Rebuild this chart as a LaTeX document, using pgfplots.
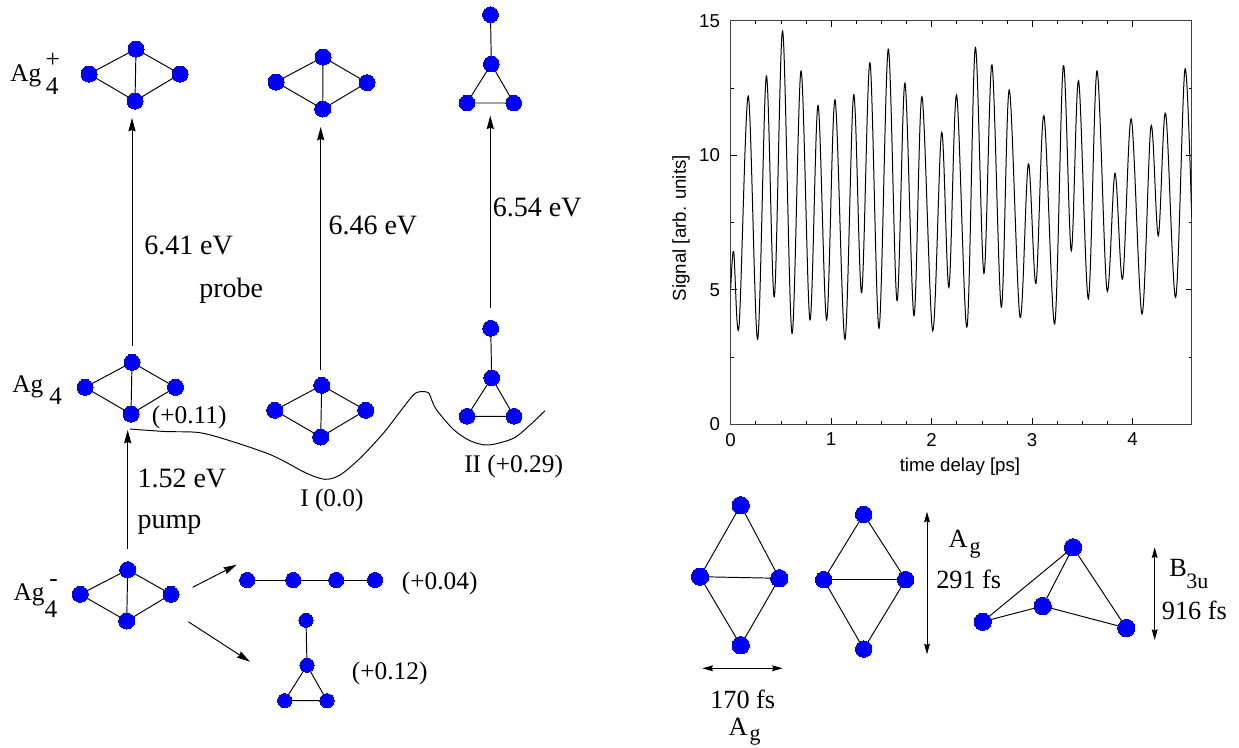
\documentclass[border=0pt]{standalone}
\usepackage{fontspec}
\setmainfont{Liberation Serif}
\newfontfamily\hv{Liberation Sans}
\usepackage{pgfplots}
\pgfplotsset{compat=1.18}
\usetikzlibrary{arrows.meta}
\definecolor{atomblue}{RGB}{0,0,255}
\newcommand{\T}[4]{\node[anchor=base west,inner sep=0pt,font=\fontsize{#1}{#1}\selectfont] at (axis cs:#2,#3) {#4};}
\newcommand{\mol}[3]{\addplot[bond] coordinates {#2};\addplot[only marks,mark=*,mark size=#1,mark options={fill=atomblue,draw=atomblue,line width=0pt}] coordinates {#3};}
\pgfplotsset{
  bond/.style={black,line width=0.72pt,no markers},
  arr/.style={black,line width=0.72pt,no markers,-{Stealth[length=10pt,width=5.4pt,inset=1pt]}},
  darr/.style={black,line width=0.72pt,no markers,{Stealth[length=8pt,width=4.4pt,inset=1pt]}-{Stealth[length=8pt,width=4.4pt,inset=1pt]}},
}
\begin{document}
\begin{tikzpicture}
\useasboundingbox (0,0) rectangle (929.25pt,560.25pt);
% canvas axis in pixel units of the reference
\begin{axis}[at={(0pt,0pt)},anchor=south west,scale only axis,width=929.25pt,height=560.25pt,
  xmin=0,xmax=1239,ymin=0,ymax=747,y dir=reverse,hide axis,clip=false]
% top row
\mol{6pt}{(136,49) (89,74) (135,101) (136,49) (180,74) (135,101)}{(136,49) (89,74) (180,74) (135,101)}
\mol{6pt}{(323,57) (276,82) (322.7,109) (323,57) (367,82.6) (322.7,109)}{(323,57) (276,82) (367,82.6) (322.7,109)}
\mol{5.9pt}{(490.5,14.7) (491.3,64) (467,103) (513.7,103) (491.3,64)}{(490.5,14.7) (491.3,64) (467,103) (513.7,103)}
% probe arrows
\addplot[arr] coordinates {(132,346) (132,118)};
\addplot[arr] coordinates {(320.7,370) (320.7,127)};
\addplot[arr] coordinates {(490.3,308) (490.3,115.7)};
% middle row
\mol{6pt}{(132,362.3) (85,387.3) (131,414) (132,362.3) (175.5,387.3) (131,414)}{(132,362.3) (85,387.3) (175.5,387.3) (131,414)}
\mol{6pt}{(321.7,385.3) (274.7,410.3) (320.7,437) (321.7,385.3) (365.7,410.3) (320.7,437)}{(321.7,385.3) (274.7,410.3) (365.7,410.3) (320.7,437)}
\mol{5.9pt}{(490.7,328.3) (491.7,377.7) (467,416.3) (514,416.3) (491.7,377.7)}{(490.7,328.3) (491.7,377.7) (467,416.3) (514,416.3)}
% potential curve
\addplot[bond,smooth,tension=0.5] coordinates {(130,429) (165,431.5) (200,432.7) (233,441.7) (267,453.3) (283,460.7) (306.7,473.3) (325,479.3) (340,475) (360,458.3) (383.3,433.3) (400,411.7) (413.3,395) (420,391.7) (428.3,392.7) (431.7,400) (436.7,410) (453.3,429.3) (470,440.7) (488.3,445) (513.3,438.3) (530,425) (545,410.7)};
% pump
\addplot[arr] coordinates {(127.7,549.3) (127.7,430)};
% bottom row
\mol{6pt}{(127.7,569.7) (80.3,594.3) (126.7,621) (127.7,569.7) (171,594.3) (126.7,621)}{(127.7,569.7) (80.3,594.3) (171,594.3) (126.7,621)}
\addplot[arr] coordinates {(192.7,587.3) (236.7,564.7)};
\addplot[arr] coordinates {(188.3,621.7) (250,661.7)};
\mol{5.7pt}{(247.3,580) (375,580)}{(247.3,580) (293.3,580) (336.3,580) (375,580)}
\mol{5.3pt}{(306,620.3) (307,665.3) (284.7,700.7) (327,700.7) (307,665.3)}{(306,620.3) (307,665.3) (284.7,700.7) (327,700.7)}
% lower right molecules
\mol{6.5pt}{(740.7,505.3) (700,576.7) (740.7,645.3) (779.3,578.3) (740.7,505.3)}{(740.7,505.3) (700,576.7) (779.3,578.3) (740.7,645.3)}
\addplot[bond] coordinates {(700,576.7) (779.3,578.3)};
\mol{6.2pt}{(863.7,514.3) (823.7,579.7) (863.7,649) (905.7,579.7) (863.7,514.3)}{(863.7,514.3) (823.7,579.7) (905.7,579.7) (863.7,649)}
\addplot[bond] coordinates {(823.7,579.7) (905.7,579.7)};
\mol{6.5pt}{(1073,547.3) (982.7,621.7) (1042.7,606) (1126.3,628) (1073,547.3) (1042.7,606)}{(1073,547.3) (982.7,621.7) (1042.7,606) (1126.3,628)}
\addplot[darr] coordinates {(702.3,668.3) (782.7,668.3)};
\addplot[darr] coordinates {(927,511.7) (927,654.3)};
\addplot[darr] coordinates {(1154.7,547.3) (1154.7,640)};
% text
\T{19pt}{10}{81.7}{Ag}
\T{19pt}{45.5}{94.3}{4}
\T{19pt}{45.3}{67}{+}
\T{19pt}{12}{392.7}{Ag}
\T{19pt}{49}{404.3}{4}
\T{19pt}{13.3}{600}{Ag}
\T{19pt}{44.3}{617.7}{4}
\T{19pt}{49}{586}{-}
\T{21pt}{144}{254.3}{6.41 eV}
\T{21pt}{328.3}{234.3}{6.46 eV}
\T{21pt}{492.7}{216}{6.54 eV}
\T{21pt}{199}{297}{probe}
\T{21pt}{137.3}{487.7}{1.52 eV}
\T{21pt}{137.3}{528}{pump}
\T{19pt}{151.7}{423.3}{(+0.11)}
\T{19pt}{300}{506.7}{I (0.0)}
\T{19pt}{464}{472.3}{II (+0.29)}
\T{19pt}{401.7}{589.3}{(+0.04)}
\T{19pt}{351.7}{679}{(+0.12)}
\T{19.7pt}{710}{708.3}{170 fs}
\T{19.7pt}{728.3}{735.7}{A}
\T{16.5pt}{749.3}{740}{g}
\T{19.7pt}{948.3}{547.3}{A}
\T{16.5pt}{969.3}{553.3}{g}
\T{19.7pt}{936}{588.3}{291 fs}
\T{19.7pt}{1169}{576}{B}
\T{16.5pt}{1186}{588.3}{3u}
\T{19.7pt}{1161.7}{619}{916 fs}
\end{axis}
% signal panel
\begin{axis}[at={(548.0pt,242.0pt)},anchor=south west,scale only axis,width=345.75pt,height=302.7pt,
  xmin=0,xmax=4.587,ymin=0,ymax=15,
  xtick={0,1,2,3,4},ytick={0,5,10,15},
  minor x tick num=3,minor y tick num=1,
  tick align=inside,major tick length=4.5pt,minor tick length=2.25pt,
  every tick/.style={black,line width=0.6pt},
  axis line style={line width=0.9pt,black!75},
  /pgf/number format/assume math mode=true,
  tick label style={font=\hv\fontsize{14pt}{14pt}\selectfont},
  label style={font=\hv\fontsize{14pt}{14pt}\selectfont},
  xlabel={time delay [ps]},ylabel={Signal [arb. units]},
  xlabel style={at={(axis description cs:0.4974,-0.118)},anchor=base},
  ylabel style={at={(axis description cs:-0.097,0.486)},anchor=base},
  xticklabel style={yshift=-3pt},
  yticklabel style={xshift=-4.5pt},
]
\addplot[black,line width=0.75pt,no markers,smooth,tension=0.55] coordinates {
(0,5.0) (0.03,6.42) (0.083,3.63) (0.175,12.20) (0.268,3.16) (0.355,12.95) (0.434,4.74)
(0.517,14.62) (0.610,3.38) (0.700,13.13) (0.789,3.88) (0.869,11.85) (0.955,3.88)
(1.038,12.06) (1.137,3.16) (1.224,12.25) (1.303,4.89) (1.386,13.44) (1.476,3.57)
(1.568,13.94) (1.655,4.60) (1.734,12.68) (1.824,4.04) (1.903,12.18) (2.010,3.48)
(2.099,10.85) (2.172,5.09) (2.248,12.24) (2.351,3.61) (2.434,14.01) (2.520,5.61)
(2.600,13.36) (2.693,4.35) (2.772,12.43) (2.879,3.98) (2.962,9.68) (3.038,5.24)
(3.117,11.47) (3.224,3.73) (3.310,13.33) (3.389,6.45) (3.462,12.77) (3.559,4.66)
(3.645,13.13) (3.744,4.99) (3.824,9.33) (3.900,5.40) (3.986,11.35) (4.093,4.10)
(4.182,11.08) (4.255,7.01) (4.328,11.56) (4.428,4.72) (4.520,13.20) (4.587,7.7)};
\end{axis}
\end{tikzpicture}
\end{document}
